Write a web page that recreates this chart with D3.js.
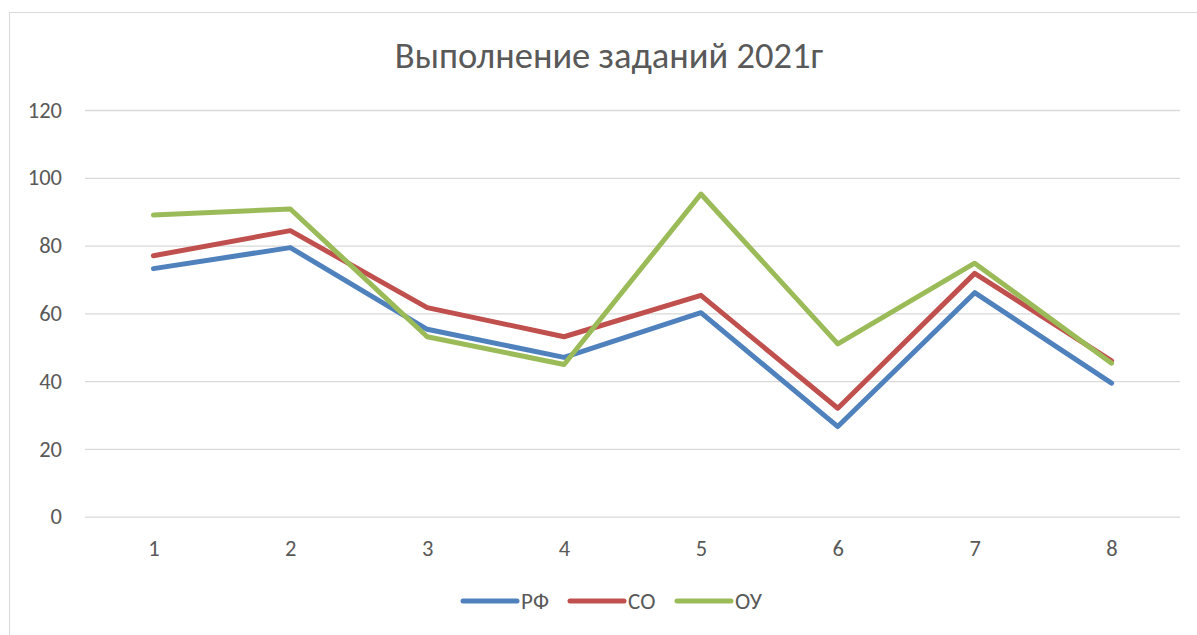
<!DOCTYPE html>
<html>
<head>
<meta charset="utf-8">
<script src="https://cdn.jsdelivr.net/npm/d3@7"></script>
<style>
  html, body { margin: 0; padding: 0; background: #fff; }
  svg { display: block; }
  text { font-family: Carlito, Calibri, Lato, "Liberation Sans", sans-serif; fill: #595959; }
</style>
</head>
<body>
<svg id="chart" width="1197" height="635"></svg>
<script>
const title = "Выполнение заданий 2021г";
const categories = ["1", "2", "3", "4", "5", "6", "7", "8"];
const seriesNames = ["РФ", "СО", "ОУ"];
const seriesColors = ["#4f81bd", "#c0504d", "#9bbb59"];
const valuesRF = [73.2, 79.4, 55.3, 47.0, 60.2, 26.6, 66.1, 39.4];
const valuesSO = [77.0, 84.4, 61.7, 53.1, 65.3, 32.0, 71.8, 46.0];
const valuesOU = [89.0, 90.8, 53.1, 44.9, 95.2, 51.0, 74.8, 45.3];
const yTicks = [0, 20, 40, 60, 80, 100, 120];

const series = [valuesRF, valuesSO, valuesOU].map((v, i) => ({
  name: seriesNames[i], color: seriesColors[i], values: v
}));

const svg = d3.select("#chart");

// chart border
svg.append("rect")
  .attr("x", 9.5).attr("y", 12.5)
  .attr("width", 1220).attr("height", 640)
  .attr("fill", "none").attr("stroke", "#d9d9d9").attr("stroke-width", 1);

const plot = { left: 85, right: 1180, top: 110, bottom: 516.7 };

const x = d3.scalePoint().domain(categories).range([plot.left, plot.right]).padding(0.5);
const y = d3.scaleLinear().domain([0, 120]).range([plot.bottom, plot.top]);

// gridlines
const yAxis = d3.axisLeft(y).tickValues(yTicks)
  .tickSize(-(plot.right - plot.left)).tickPadding(23);
const gy = svg.append("g").attr("transform", `translate(${plot.left},0)`).call(yAxis);
gy.select(".domain").remove();
gy.selectAll(".tick line").attr("stroke", "#d9d9d9").attr("stroke-width", 1.3);
gy.selectAll(".tick text").attr("font-size", 22.5).attr("fill", "#595959")
  .style("font-family", "Carlito, Calibri, Lato, sans-serif");

const xAxis = d3.axisBottom(x).tickSize(0).tickPadding(23);
const gx = svg.append("g").attr("transform", `translate(0,${plot.bottom})`).call(xAxis);
gx.select(".domain").remove();
gx.selectAll(".tick text").attr("font-size", 22.5).attr("fill", "#595959")
  .style("font-family", "Carlito, Calibri, Lato, sans-serif");

// lines
const line = d3.line().x((d, i) => x(categories[i])).y(d => y(d));
svg.append("g").selectAll("path").data(series).join("path")
  .attr("d", d => line(d.values))
  .attr("fill", "none")
  .attr("stroke", d => d.color)
  .attr("stroke-width", 5)
  .attr("stroke-linejoin", "round")
  .attr("stroke-linecap", "round");

// title
svg.append("text")
  .attr("x", 609).attr("y", 68)
  .attr("text-anchor", "middle")
  .attr("font-size", 36.5)
  .text(title);

// legend
const legendX = [463, 570, 677];
const lg = svg.append("g").selectAll("g").data(series).join("g")
  .attr("transform", (d, i) => `translate(${legendX[i]},601)`);
lg.append("line").attr("x1", 0).attr("x2", 54).attr("y1", 0).attr("y2", 0)
  .attr("stroke", d => d.color).attr("stroke-width", 5).attr("stroke-linecap", "round");
lg.append("text").attr("x", 58).attr("y", 0).attr("dy", "0.35em")
  .attr("font-size", 23).text(d => d.name);
</script>
</body>
</html>
